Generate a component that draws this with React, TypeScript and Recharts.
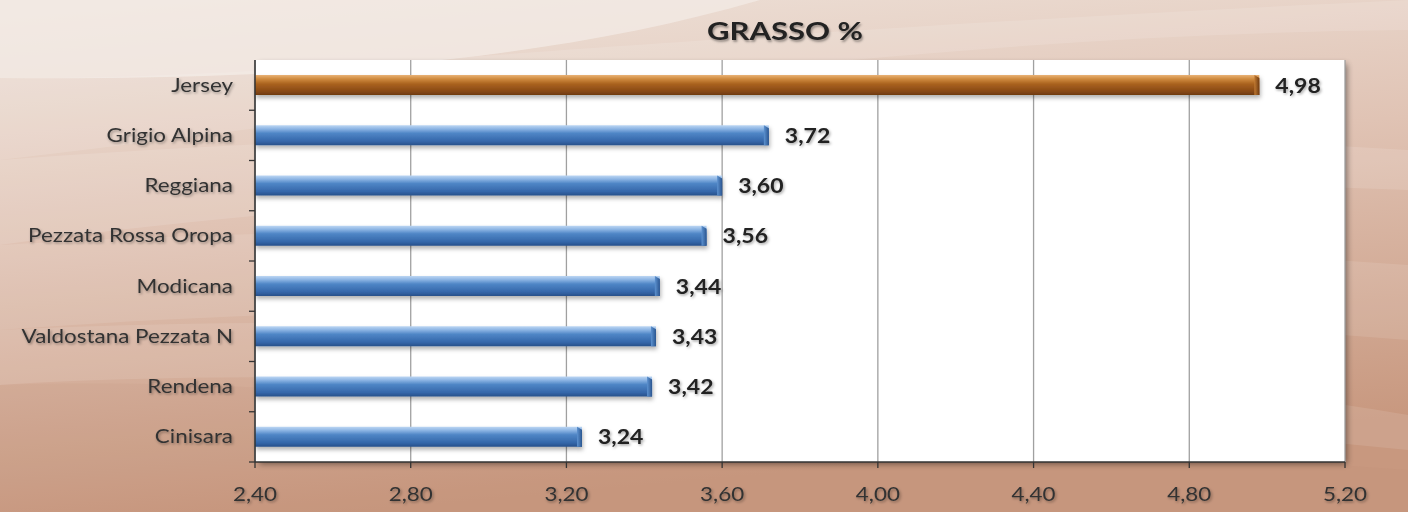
import React from "react";
import {
  BarChart,
  Bar,
  XAxis,
  YAxis,
  CartesianGrid,
  LabelList,
  Cell,
} from "recharts";

// ---- data ----
const breeds = [
  "Jersey",
  "Grigio Alpina",
  "Reggiana",
  "Pezzata Rossa Oropa",
  "Modicana",
  "Valdostana Pezzata N",
  "Rendena",
  "Cinisara",
];
const fatValues = [4.98, 3.72, 3.6, 3.56, 3.44, 3.43, 3.42, 3.24];
const xTicks = [2.4, 2.8, 3.2, 3.6, 4.0, 4.4, 4.8, 5.2];
const chartTitle = "GRASSO %";
const highlightBreed = "Jersey";

const data = breeds.map((breed, i) => ({ breed, value: fatValues[i] }));

// ---- layout ----
const W = 1408;
const H = 512;
const MARGIN = { top: 60, right: 63, bottom: 20, left: 0 };
const X_AXIS_H = 30;
const Y_AXIS_W = 255;
const PLOT_H = H - MARGIN.top - MARGIN.bottom - X_AXIS_H;
const BAND = PLOT_H / breeds.length;
const FONT = "Lato, 'Open Sans', sans-serif";
const STRETCH = 1.18;

const fmt = (v: number) => Number(v).toFixed(2).replace(".", ",");

const YTick = (props: any) => {
  const { x, y, payload } = props;
  return (
    <g>
      <line x1={x - 6} x2={x} y1={y + BAND / 2} y2={y + BAND / 2} stroke="#333" strokeWidth={1.3} />
      <g transform={`translate(${x - 22},${y + 6.5}) scale(${STRETCH},1)`}>
        <text
          x={0}
          y={0}
          textAnchor="end"
          fontFamily={FONT}
          fontSize={19}
          fill="#333"
          filter="url(#txtShadow)"
        >
          {payload.value}
        </text>
      </g>
    </g>
  );
};

const XTick = (props: any) => {
  const { x, y, payload } = props;
  return (
    <g transform={`translate(${x},${y + 31}) scale(${STRETCH},1)`}>
      <text
        x={0}
        y={0}
        textAnchor="middle"
        fontFamily={FONT}
        fontSize={19}
        fill="#333"
        filter="url(#txtShadow)"
      >
        {fmt(payload.value)}
      </text>
    </g>
  );
};

const ValueLabel = (props: any) => {
  const { x, y, width, height, value } = props;
  return (
    <g transform={`translate(${x + width + 16},${y + height / 2 + 7.5}) scale(${STRETCH - 0.03},1)`}>
      <text
        x={0}
        y={0}
        textAnchor="start"
        fontFamily={FONT}
        fontWeight={700}
        fontSize={20}
        fill="#222"
        filter="url(#txtShadow)"
      >
        {fmt(value)}
      </text>
    </g>
  );
};

const BarShape = (props: any) => {
  const { x, y, width, height, payload } = props;
  const g = payload.breed === highlightBreed ? "brown" : "blue";
  const cap = 5;
  return (
    <g filter="url(#barShadow)">
      <rect x={x} y={y} width={width} height={height} fill={`url(#${g}Body)`} />
      <polygon
        points={`${x + width - cap},${y} ${x + width},${y + 3} ${x + width},${y + height} ${x + width - cap},${y + height}`}
        fill={`url(#${g}Cap)`}
      />
    </g>
  );
};

const Background = () => (
  <svg
    width={W}
    height={H}
    style={{ position: "absolute", left: 0, top: 0 }}
    viewBox={`0 0 ${W} ${H}`}
  >
    <defs>
      <linearGradient id="bgV" x1="0" y1="0" x2="0.25" y2="1">
        <stop offset="0%" stopColor="#efe4dc" />
        <stop offset="45%" stopColor="#e0c3b4" />
        <stop offset="100%" stopColor="#c8987f" />
      </linearGradient>
      <filter id="plotShadow" x="-5%" y="-5%" width="110%" height="110%">
        <feGaussianBlur stdDeviation="3" />
      </filter>
    </defs>
    <rect x={0} y={0} width={W} height={H} fill="url(#bgV)" />
    <path d="M0,0 L760,0 C520,70 240,80 0,78 Z" fill="#f3ebe5" opacity={0.75} />
    <path d="M0,78 C300,80 560,40 1408,0 L1408,30 C900,35 420,110 0,160 Z" fill="#ffffff" opacity={0.12} />
    <path d="M0,160 C400,130 900,120 1408,150 L1408,190 C900,170 400,190 0,245 Z" fill="#ffffff" opacity={0.12} />
    <path d="M0,245 C400,220 900,230 1408,265 L1408,340 C900,300 400,300 0,330 Z" fill="#ffffff" opacity={0.1} />
    <path d="M0,330 C400,310 900,330 1408,415 L1408,450 C900,400 400,360 0,385 Z" fill="#ffffff" opacity={0.1} />
    <path d="M0,385 C300,375 700,420 1408,470 L1408,512 L0,512 Z" fill="#b07a62" opacity={0.08} />
    <rect x={259} y={64} width={1088} height={400} fill="#000" opacity={0.45} filter="url(#plotShadow)" />
  </svg>
);

export default function App() {
  return (
    <div style={{ position: "absolute", left: 0, top: 0, width: W, height: H, overflow: "hidden" }}>
      <Background />
      <div
        style={{
          position: "absolute",
          left: 0,
          width: 1570,
          top: 15,
          textAlign: "center",
          fontFamily: FONT,
          fontWeight: 700,
          fontSize: 25,
          lineHeight: "30px",
          color: "#222",
          textShadow: "1px 1.5px 2px rgba(0,0,0,0.35)",
          transform: "scaleX(1.24)",
          transformOrigin: "785px 0",
        }}
      >
        {chartTitle}
      </div>
      <div style={{ position: "absolute", left: 0, top: 0 }}>
        <BarChart width={W} height={H} data={data} layout="vertical" margin={MARGIN} barSize={20}>
          <defs>
            <linearGradient id="blueBody" x1="0" y1="0" x2="0" y2="1">
              <stop offset="0%" stopColor="#bcd6f3" />
              <stop offset="18%" stopColor="#8db5e4" />
              <stop offset="40%" stopColor="#4f86c6" />
              <stop offset="80%" stopColor="#3567aa" />
              <stop offset="100%" stopColor="#27508a" />
            </linearGradient>
            <linearGradient id="blueCap" x1="0" y1="0" x2="1" y2="0">
              <stop offset="0%" stopColor="#5d92d0" />
              <stop offset="100%" stopColor="#2a5590" />
            </linearGradient>
            <linearGradient id="brownBody" x1="0" y1="0" x2="0" y2="1">
              <stop offset="0%" stopColor="#e9b277" />
              <stop offset="20%" stopColor="#cf8a3d" />
              <stop offset="45%" stopColor="#a9621f" />
              <stop offset="80%" stopColor="#8a4a16" />
              <stop offset="100%" stopColor="#6f3a10" />
            </linearGradient>
            <linearGradient id="brownCap" x1="0" y1="0" x2="1" y2="0">
              <stop offset="0%" stopColor="#c07a34" />
              <stop offset="100%" stopColor="#6f3a10" />
            </linearGradient>
            <filter id="barShadow" x="-2%" y="-30%" width="104%" height="180%">
              <feDropShadow dx="1" dy="3" stdDeviation="2" floodColor="#000" floodOpacity="0.3" />
            </filter>
            <filter id="txtShadow" x="-10%" y="-30%" width="130%" height="170%">
              <feDropShadow dx="1" dy="1.5" stdDeviation="1.2" floodColor="#000" floodOpacity="0.35" />
            </filter>
          </defs>
          <CartesianGrid horizontal={false} vertical stroke="#a0a0a0" strokeWidth={1.3} fill="#ffffff" fillOpacity={1} />
          <XAxis
            type="number"
            domain={[2.4, 5.2]}
            ticks={xTicks}
            height={X_AXIS_H}
            axisLine={{ stroke: "#333", strokeWidth: 1.5 }}
            tickLine={{ stroke: "#333", strokeWidth: 1.3 }}
            tickSize={6}
            tick={<XTick />}
            interval={0}
          />
          <XAxis
            xAxisId="top"
            orientation="top"
            type="number"
            domain={[2.4, 5.2]}
            height={0}
            tick={false}
            tickLine={false}
            axisLine={{ stroke: "#444", strokeWidth: 1.5 }}
          />
          <YAxis
            type="category"
            dataKey="breed"
            width={Y_AXIS_W}
            axisLine={{ stroke: "#333", strokeWidth: 1.5 }}
            tickLine={false}
            tickSize={0}
            tickMargin={0}
            tick={<YTick />}
            interval={0}
          />
          <YAxis
            yAxisId="right"
            orientation="right"
            type="category"
            dataKey="breed"
            width={0}
            tick={false}
            tickLine={false}
            axisLine={{ stroke: "#444", strokeWidth: 1.8 }}
          />
          <Bar dataKey="value" isAnimationActive={false} shape={<BarShape />}>
            {data.map((d) => (
              <Cell key={d.breed} fill={d.breed === highlightBreed ? "#a9621f" : "#4f86c6"} />
            ))}
            <LabelList dataKey="value" content={<ValueLabel />} />
          </Bar>
        </BarChart>
      </div>
    </div>
  );
}
